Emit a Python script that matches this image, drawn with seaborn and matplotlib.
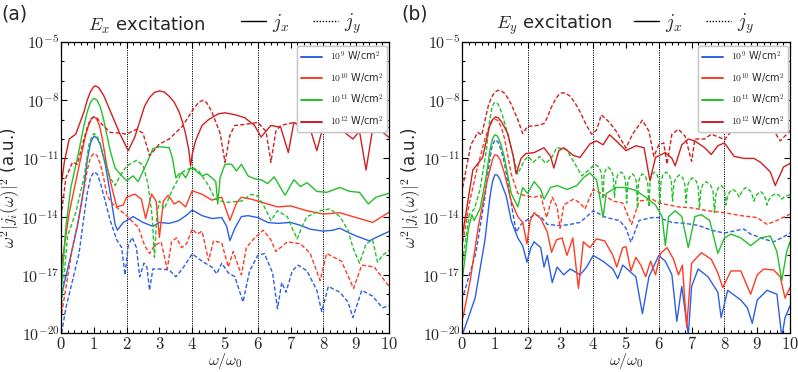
import matplotlib
matplotlib.use("Agg")
import matplotlib.pyplot as plt
from matplotlib.lines import Line2D
from matplotlib.ticker import FixedLocator, MultipleLocator, FuncFormatter, NullFormatter
import seaborn as sns
import pandas as pd

# (omega/omega0, log10 of w^2 |j_i(w)|^2)
# panel (a): Ex excitation
a_jx_9 = [(0.02,-18.0),(0.3,-16.0),(0.5,-14.5),(0.7,-12.5),(0.8,-11.1),(0.9,-10.2),(1.0,-9.85),(1.1,-9.95),(1.2,-10.3),(1.35,-11.3),(1.5,-12.8),(1.65,-14.4),(1.72,-14.7),(1.9,-14.3),(2.2,-14.0),(2.5,-14.3),(2.8,-14.5),(3.0,-14.3),(3.3,-14.35),(3.6,-14.2),(3.85,-13.9),(4.0,-13.66),(4.3,-13.95),(4.6,-14.1),(4.9,-14.05),(5.05,-14.5),(5.15,-15.24),(5.3,-14.6),(5.5,-14.0),(5.7,-13.95),(6.0,-14.05),(6.3,-14.3),(6.6,-14.35),(7.0,-14.3),(7.3,-14.45),(7.6,-14.65),(8.0,-14.75),(8.3,-14.7),(8.5,-14.6),(8.8,-14.85),(9.0,-15.0),(9.4,-15.25),(9.7,-15.0),(10.0,-14.77)]
a_jy_9 = [(0.02,-20.0),(0.15,-18.7),(0.35,-17.3),(0.55,-15.9),(0.7,-14.0),(0.8,-12.8),(0.9,-12.0),(1.0,-11.7),(1.1,-11.8),(1.2,-12.25),(1.3,-12.9),(1.5,-14.2),(1.7,-15.2),(1.85,-15.6),(1.95,-17.0),(2.05,-15.5),(2.17,-15.07),(2.3,-15.6),(2.4,-17.1),(2.53,-16.4),(2.62,-16.6),(2.7,-17.8),(2.8,-16.7),(3.0,-16.7),(3.3,-16.75),(3.5,-17.1),(3.7,-16.7),(4.0,-15.92),(4.3,-16.3),(4.6,-16.6),(4.75,-16.95),(4.9,-16.4),(5.1,-16.9),(5.3,-17.1),(5.55,-18.4),(5.75,-16.8),(6.0,-16.0),(6.2,-15.9),(6.45,-16.9),(6.6,-18.75),(6.73,-17.4),(6.86,-17.9),(7.05,-16.8),(7.23,-16.5),(7.5,-16.8),(7.8,-17.8),(7.95,-18.9),(8.15,-17.6),(8.5,-17.9),(8.75,-18.4),(8.9,-19.2),(9.17,-17.8),(9.5,-18.1),(9.8,-18.7),(10.0,-18.6)]
a_jx_10 = [(0.02,-16.5),(0.25,-13.8),(0.5,-11.8),(0.75,-9.8),(0.85,-9.25),(0.93,-8.95),(1.0,-8.86),(1.08,-8.95),(1.17,-9.3),(1.25,-9.9),(1.4,-11.4),(1.55,-12.5),(1.7,-13.5),(1.9,-13.4),(2.0,-13.0),(2.25,-12.84),(2.45,-13.1),(2.58,-14.1),(2.76,-12.84),(2.9,-13.2),(3.0,-15.07),(3.12,-13.2),(3.27,-12.9),(3.45,-13.35),(3.6,-13.2),(3.8,-13.5),(4.0,-12.67),(4.3,-12.85),(4.6,-13.15),(4.9,-13.0),(5.15,-14.2),(5.35,-13.3),(5.5,-13.0),(5.8,-13.1),(6.0,-13.2),(6.3,-13.35),(6.6,-13.5),(7.0,-13.45),(7.5,-13.7),(8.0,-13.87),(8.5,-13.8),(9.0,-14.05),(9.5,-14.3),(10.0,-13.78)]
a_jy_10 = [(0.02,-19.0),(0.35,-15.6),(0.6,-13.6),(0.8,-11.6),(0.9,-10.95),(1.0,-10.74),(1.1,-10.85),(1.2,-11.3),(1.3,-12.0),(1.4,-12.9),(1.55,-13.3),(1.75,-13.6),(2.0,-13.95),(2.2,-14.3),(2.36,-14.55),(2.55,-15.5),(2.7,-15.9),(2.85,-15.5),(3.05,-15.3),(3.24,-16.7),(3.37,-15.3),(3.52,-15.1),(3.68,-15.6),(3.83,-15.4),(4.0,-14.64),(4.15,-14.9),(4.3,-14.75),(4.5,-16.27),(4.65,-15.25),(4.9,-15.35),(5.1,-16.6),(5.25,-15.8),(5.5,-17.0),(5.65,-15.6),(5.9,-15.1),(6.17,-14.7),(6.4,-15.2),(6.55,-15.8),(6.9,-15.3),(7.3,-15.4),(7.6,-15.9),(7.9,-17.3),(8.1,-15.9),(8.55,-16.3),(8.92,-17.7),(9.17,-16.5),(9.55,-16.6),(10.0,-17.6)]
a_jx_11 = [(0.02,-17.5),(0.15,-14.5),(0.3,-12.5),(0.5,-11.0),(0.7,-9.3),(0.8,-8.6),(0.9,-8.1),(1.0,-7.9),(1.1,-8.0),(1.2,-8.35),(1.3,-9.0),(1.5,-10.6),(1.65,-11.5),(1.8,-11.8),(2.0,-12.15),(2.2,-11.9),(2.35,-12.2),(2.6,-11.3),(2.8,-10.5),(3.0,-10.4),(3.3,-10.45),(3.4,-11.0),(3.5,-12.0),(3.6,-11.8),(3.7,-11.75),(3.8,-12.0),(3.95,-11.5),(4.05,-11.55),(4.3,-11.9),(4.45,-11.8),(4.6,-12.0),(4.72,-12.2),(4.78,-13.35),(4.85,-12.0),(5.0,-11.3),(5.2,-11.3),(5.35,-11.65),(5.5,-11.3),(5.7,-11.9),(5.9,-12.05),(6.1,-12.1),(6.3,-12.3),(6.5,-11.95),(6.83,-12.9),(7.1,-12.1),(7.3,-12.45),(7.5,-12.25),(7.8,-12.7),(8.1,-12.75),(8.5,-12.5),(8.8,-12.7),(9.1,-12.75),(9.37,-13.35),(9.6,-13.0),(10.0,-12.8)]
a_jy_11 = [(0.02,-18.5),(0.2,-15.0),(0.45,-13.8),(0.7,-12.0),(0.85,-10.3),(0.93,-9.9),(1.0,-9.72),(1.08,-9.8),(1.18,-10.15),(1.3,-10.9),(1.5,-12.0),(1.65,-12.4),(1.8,-11.9),(2.0,-11.4),(2.3,-11.1),(2.5,-11.35),(2.65,-12.3),(2.78,-14.0),(2.85,-16.1),(2.92,-14.0),(3.0,-13.2),(3.15,-13.6),(3.4,-12.6),(3.7,-11.7),(4.0,-11.46),(4.2,-11.65),(4.5,-12.4),(4.7,-13.1),(5.0,-13.27),(5.5,-13.2),(5.8,-12.85),(6.0,-12.95),(6.2,-13.5),(6.4,-14.2),(6.6,-13.7),(6.9,-14.0),(7.05,-14.6),(7.2,-15.15),(7.35,-14.5),(7.5,-14.0),(7.9,-13.7),(8.2,-13.6),(8.5,-14.0),(8.75,-14.7),(8.9,-15.6),(9.1,-16.4),(9.3,-15.4),(9.5,-15.2),(9.65,-16.35),(9.8,-16.0),(10.0,-15.75)]
a_jx_12 = [(0.0,-12.5),(0.1,-11.2),(0.25,-10.0),(0.45,-9.75),(0.7,-8.6),(0.8,-8.0),(0.9,-7.55),(1.0,-7.3),(1.05,-7.26),(1.15,-7.35),(1.3,-7.75),(1.5,-8.55),(1.8,-9.75),(2.05,-10.6),(2.25,-9.9),(2.4,-9.1),(2.55,-8.3),(2.7,-7.86),(2.85,-7.6),(3.0,-7.52),(3.15,-7.58),(3.3,-7.8),(3.45,-8.1),(3.6,-8.6),(3.7,-9.1),(3.8,-9.75),(3.9,-10.6),(3.95,-11.4),(4.0,-10.8),(4.1,-10.1),(4.3,-9.3),(4.5,-9.0),(4.8,-8.7),(5.0,-8.65),(5.3,-8.75),(5.6,-8.9),(5.9,-9.3),(6.1,-9.9),(6.4,-9.3),(6.7,-9.4),(6.93,-10.7),(7.1,-9.15),(7.4,-9.35),(7.6,-9.5),(7.8,-10.6),(8.0,-9.3),(8.3,-9.4),(8.6,-9.6),(8.9,-10.0),(9.1,-9.6),(9.3,-11.6),(9.5,-9.5),(9.7,-9.5),(10.0,-9.92)]
a_jy_12 = [(0.0,-14.0),(0.15,-12.0),(0.35,-11.2),(0.5,-11.3),(0.7,-10.0),(0.82,-9.3),(0.92,-8.95),(1.0,-8.86),(1.1,-8.92),(1.25,-9.25),(1.5,-9.66),(1.8,-9.7),(2.0,-9.75),(2.3,-9.5),(2.5,-9.7),(2.7,-10.86),(3.0,-10.26),(3.3,-10.0),(3.7,-9.35),(4.0,-8.55),(4.2,-8.1),(4.34,-8.0),(4.45,-8.15),(4.6,-8.6),(4.85,-9.7),(5.0,-11.2),(5.15,-9.8),(5.3,-9.3),(5.6,-9.25),(6.0,-9.15),(6.25,-9.6),(6.4,-11.2),(6.55,-9.6),(6.7,-9.3),(7.1,-9.15),(7.4,-9.45),(7.6,-9.6),(7.9,-9.3),(8.3,-8.93),(8.7,-9.25),(9.0,-9.6),(9.5,-9.35),(10.0,-9.41)]

# panel (b): Ey excitation
b_jx_9 = [(0.03,-20.0),(0.4,-18.2),(0.7,-15.2),(0.85,-13.0),(0.93,-12.2),(1.0,-11.85),(1.07,-11.85),(1.15,-12.05),(1.25,-12.5),(1.35,-12.95),(1.5,-14.2),(1.7,-15.1),(1.85,-15.5),(1.98,-16.35),(2.1,-15.6),(2.2,-15.3),(2.4,-15.6),(2.5,-16.6),(2.6,-16.0),(2.75,-17.4),(2.9,-16.6),(3.1,-17.0),(3.3,-16.7),(3.6,-17.0),(3.8,-16.6),(4.0,-16.0),(4.3,-16.3),(4.6,-16.7),(4.75,-17.2),(4.9,-16.5),(5.1,-16.8),(5.3,-17.1),(5.5,-19.0),(5.7,-17.1),(6.0,-16.0),(6.2,-16.3),(6.4,-17.0),(6.55,-19.4),(6.7,-17.6),(6.9,-20.1),(7.0,-17.6),(7.2,-16.7),(7.5,-17.1),(7.8,-17.9),(7.9,-19.2),(8.1,-17.8),(8.5,-18.3),(8.7,-18.7),(8.85,-19.5),(9.0,-18.3),(9.3,-17.8),(9.6,-18.0),(9.75,-20.2),(9.85,-19.2),(10.0,-18.6)]
b_jy_9 = [(0.05,-18.0),(0.42,-15.9),(0.7,-13.0),(0.8,-11.6),(0.9,-10.5),(1.0,-10.04),(1.1,-10.15),(1.2,-10.6),(1.3,-11.3),(1.5,-13.3),(1.65,-14.8),(1.8,-14.4),(2.0,-14.15),(2.2,-13.9),(2.4,-14.0),(2.6,-14.4),(3.0,-14.47),(3.3,-14.4),(3.6,-14.3),(4.0,-13.7),(4.4,-14.05),(4.8,-14.2),(5.0,-14.6),(5.15,-15.32),(5.4,-14.2),(5.8,-14.05),(6.0,-14.05),(6.4,-14.3),(6.8,-14.35),(7.2,-14.45),(7.6,-14.7),(8.0,-14.85),(8.4,-14.7),(8.6,-14.65),(8.8,-14.9),(9.2,-15.15),(9.5,-15.3),(9.8,-15.05),(10.0,-14.84)]
b_jx_10 = [(0.03,-19.2),(0.25,-17.3),(0.5,-14.5),(0.75,-12.3),(0.85,-11.6),(0.93,-11.05),(1.0,-10.81),(1.08,-10.85),(1.17,-11.1),(1.3,-11.8),(1.5,-13.2),(1.7,-14.0),(1.85,-14.3),(1.98,-15.4),(2.08,-14.2),(2.2,-13.8),(2.4,-14.1),(2.6,-14.8),(2.73,-15.84),(2.88,-15.2),(3.05,-15.1),(3.2,-16.0),(3.38,-15.1),(3.55,-17.7),(3.7,-15.3),(3.9,-15.6),(4.1,-15.15),(4.35,-15.25),(4.6,-16.0),(4.72,-16.6),(4.9,-15.6),(5.0,-15.55),(5.15,-16.8),(5.3,-16.1),(5.45,-16.5),(5.6,-17.1),(5.75,-16.3),(5.9,-17.0),(6.05,-15.9),(6.25,-15.6),(6.45,-16.2),(6.6,-17.0),(6.72,-16.5),(6.85,-19.7),(7.0,-16.4),(7.3,-15.86),(7.6,-16.2),(7.8,-16.9),(7.95,-17.66),(8.2,-16.8),(8.5,-16.8),(8.8,-18.0),(9.0,-17.0),(9.2,-16.7),(9.5,-16.75),(9.7,-17.1),(9.85,-18.2),(10.0,-17.66)]
b_jy_10 = [(0.03,-15.3),(0.2,-13.5),(0.45,-11.6),(0.7,-10.0),(0.8,-9.5),(0.9,-9.1),(1.0,-8.98),(1.1,-9.05),(1.2,-9.4),(1.3,-10.0),(1.5,-11.8),(1.7,-12.8),(1.94,-12.93),(2.2,-13.0),(2.4,-12.9),(2.58,-14.05),(2.75,-13.0),(2.9,-13.5),(2.99,-14.6),(3.1,-13.4),(3.4,-13.1),(3.6,-13.3),(3.75,-13.6),(4.0,-12.6),(4.3,-12.85),(4.6,-13.2),(4.9,-13.3),(5.17,-14.4),(5.4,-13.2),(5.8,-13.1),(6.0,-13.3),(6.3,-13.4),(6.6,-13.5),(7.0,-13.55),(7.5,-13.7),(8.0,-13.8),(8.5,-13.95),(9.0,-14.05),(9.3,-14.4),(9.6,-14.2),(10.0,-13.87)]
b_jx_11 = [(0.02,-17.1),(0.2,-14.6),(0.3,-13.9),(0.37,-14.2),(0.55,-13.6),(0.73,-12.0),(0.85,-10.6),(0.93,-10.0),(1.0,-9.78),(1.08,-9.85),(1.17,-10.2),(1.3,-11.0),(1.5,-12.8),(1.7,-13.5),(1.85,-12.5),(2.0,-12.8),(2.2,-12.2),(2.4,-12.6),(2.5,-13.1),(2.7,-12.5),(2.9,-12.4),(3.2,-12.6),(3.5,-12.4),(3.7,-12.0),(3.9,-11.75),(4.1,-12.1),(4.2,-13.0),(4.3,-14.04),(4.4,-12.8),(4.7,-12.5),(5.0,-12.5),(5.3,-12.65),(5.6,-13.0),(5.9,-13.4),(6.1,-14.0),(6.2,-15.5),(6.3,-14.0),(6.5,-13.7),(6.7,-14.0),(6.9,-15.6),(7.1,-14.0),(7.3,-13.9),(7.55,-14.2),(7.8,-15.9),(8.0,-15.1),(8.2,-14.9),(8.5,-15.1),(8.8,-15.5),(9.1,-15.1),(9.4,-15.0),(9.6,-15.8),(9.75,-17.3),(9.9,-15.8),(10.0,-15.3)]
b_jy_11 = [(0.02,-16.3),(0.22,-13.9),(0.38,-13.6),(0.55,-12.6),(0.75,-10.5),(0.82,-9.3),(0.9,-8.5),(0.96,-8.18),(1.02,-8.1),(1.1,-8.2),(1.2,-8.6),(1.34,-9.4),(1.55,-10.8),(1.7,-11.8),(1.9,-11.1),(2.02,-10.9),(2.17,-11.2),(2.37,-10.9),(2.55,-11.25),(2.72,-11.0),(2.89,-10.44),(3.19,-10.55),(3.45,-11.3),(3.65,-11.9),(3.8,-11.7),
           (4.05,-11.3),(4.175,-11.45),(4.25,-11.75),(4.3,-13.1),(4.33,-11.9),(4.375,-11.6),(4.45,-11.45),(4.55,-11.6),(4.61,-11.9),(4.65,-13.0),(4.69,-12.15),(4.75,-11.85),(4.85,-11.7),
           (4.935,-11.85),(4.985,-12.15),(5.02,-13.3),(5.056,-12.25),(5.11,-11.95),(5.2,-11.8),(5.275,-11.95),(5.32,-12.25),(5.35,-13.6),(5.38,-12.25),(5.425,-11.95),(5.5,-11.8),
           (5.6,-11.95),(5.66,-12.25),(5.7,-13.5),(5.734,-12.15),(5.785,-11.85),(5.87,-11.7),(5.95,-11.85),(6.0,-12.15),(6.03,-13.4),(6.07,-12.15),(6.125,-11.85),(6.22,-11.7),
           (6.32,-11.85),(6.38,-12.15),(6.42,-13.2),(6.46,-12.3),(6.525,-12.0),(6.63,-11.85),(6.73,-12.0),(6.79,-12.3),(6.83,-13.3),(6.87,-12.45),(6.93,-12.15),(7.03,-12.0),
           (7.135,-12.15),(7.2,-12.45),(7.24,-13.6),(7.28,-12.65),(7.34,-12.35),(7.44,-12.2),(7.57,-12.35),(7.65,-12.65),(7.7,-13.8),(7.74,-12.85),(7.8,-12.55),(7.9,-12.4),
           (7.975,-12.55),(8.02,-12.85),(8.05,-13.4),(8.09,-13.0),(8.15,-12.75),(8.25,-12.6),(8.35,-12.7),(8.41,-12.85),(8.45,-13.0),(8.49,-12.85),(8.55,-12.65),(8.65,-12.5),
           (8.775,-12.65),(8.85,-12.9),(8.9,-13.2),(8.94,-13.0),(9.0,-12.85),(9.1,-12.7),(9.2,-12.85),(9.26,-13.1),(9.3,-13.4),(9.35,-13.15),(9.43,-12.95),(9.57,-12.8),
           (9.66,-12.9),(9.72,-13.0),(9.75,-13.1),(9.85,-12.95),(10.0,-12.87)]
b_jx_12 = [(0.02,-14.9),(0.33,-11.6),(0.63,-10.95),(0.83,-9.4),(0.93,-9.0),(1.02,-8.86),(1.1,-8.9),(1.2,-9.1),(1.3,-9.4),(1.4,-9.75),(1.55,-10.8),(1.65,-11.8),(1.8,-11.0),(1.95,-10.75),(2.2,-10.7),(2.5,-10.45),(2.7,-10.9),(2.8,-11.5),(2.95,-10.6),(3.1,-10.45),(3.4,-10.85),(3.6,-10.95),(3.9,-10.25),(4.1,-10.1),(4.3,-10.3),(4.5,-9.78),(4.7,-10.1),(5.0,-10.6),(5.3,-10.35),(5.55,-10.45),(5.73,-12.15),(5.9,-10.95),(6.2,-10.7),(6.4,-11.0),(6.5,-11.38),(6.7,-10.3),(6.9,-10.0),(7.1,-10.1),(7.4,-10.45),(7.6,-10.8),(7.8,-10.35),(8.0,-10.2),(8.3,-10.9),(8.6,-11.0),(8.9,-11.0),(9.1,-11.2),(9.4,-11.7),(9.55,-12.4),(9.8,-11.45),(10.0,-11.26)]
b_jy_12 = [(0.02,-12.5),(0.27,-10.3),(0.48,-9.66),(0.6,-9.8),(0.8,-8.3),(0.9,-7.85),(1.0,-7.58),(1.1,-7.49),(1.2,-7.52),(1.3,-7.65),(1.4,-7.9),(1.5,-8.2),(1.7,-9.0),(1.85,-9.72),(2.0,-9.35),(2.3,-9.3),(2.5,-9.2),(2.6,-8.9),(2.7,-8.45),(2.85,-7.95),(2.95,-7.72),(3.05,-7.62),(3.15,-7.63),(3.3,-7.8),(3.45,-8.15),(3.6,-8.6),(3.75,-9.15),(3.95,-9.75),(4.1,-9.55),(4.25,-8.75),(4.5,-9.15),(4.7,-9.6),(5.0,-10.47),(5.2,-9.75),(5.5,-9.03),(5.7,-9.6),(5.85,-10.9),(6.0,-10.3),(6.15,-10.2),(6.25,-11.3),(6.4,-9.75),(6.6,-9.5),(6.8,-9.85),(7.0,-11.15),(7.1,-10.0),(7.4,-10.0),(7.6,-9.75),(7.9,-9.95),(8.0,-10.05),(8.3,-9.4),(8.7,-9.2),(9.0,-9.3),(9.2,-9.15),(9.5,-9.55),(9.7,-10.1),(10.0,-9.58)]

intensities = ["1e9", "1e10", "1e11", "1e12"]
int_labels = [r"$10^{9}$ W/cm$^2$", r"$10^{10}$ W/cm$^2$", r"$10^{11}$ W/cm$^2$", r"$10^{12}$ W/cm$^2$"]
colors = ["#2b5fe6", "#ff3b22", "#22c02a", "#d01f1f"]
y_ticks = [1e-20, 1e-17, 1e-14, 1e-11, 1e-8, 1e-5]
y_ticklabels = [r"$10^{-20}$", r"$10^{-17}$", r"$10^{-14}$", r"$10^{-11}$", r"$10^{-8}$", r"$10^{-5}$"]

panels = {
    "a": {"jx": [a_jx_9, a_jx_10, a_jx_11, a_jx_12], "jy": [a_jy_9, a_jy_10, a_jy_11, a_jy_12]},
    "b": {"jx": [b_jx_9, b_jx_10, b_jx_11, b_jx_12], "jy": [b_jy_9, b_jy_10, b_jy_11, b_jy_12]},
}


def make_frame(curves):
    parts = []
    for comp, lists in curves.items():
        for inten, pts in zip(intensities, lists):
            df = pd.DataFrame(pts, columns=["w", "lg"])
            df["val"] = 10.0 ** df["lg"]
            df["comp"] = comp
            df["intensity"] = inten
            parts.append(df)
    return pd.concat(parts, ignore_index=True)


sns.set_style("ticks")
plt.rcParams["mathtext.fontset"] = "cm"
plt.rcParams["font.family"] = ["DejaVu Sans"]
plt.rcParams["xtick.direction"] = "in"
plt.rcParams["ytick.direction"] = "in"

fig = plt.figure(figsize=(7.98, 3.72), dpi=100)
W, H = 798.0, 372.0
lefts = {"a": 61, "b": 462}
headers = {"a": r"$E_x$ excitation", "b": r"$E_y$ excitation"}
header_x = {"a": 88, "b": 496}
jleg_x = {"a": 241, "b": 634}
tags = {"a": (1, "(a)"), "b": (401, "(b)")}

for key in ["a", "b"]:
    ax = fig.add_axes([lefts[key] / W, 1 - 333 / H, 328 / W, 291 / H])
    data = make_frame(panels[key])
    sns.lineplot(data=data, x="w", y="val", hue="intensity", style="comp",
                 hue_order=intensities, palette=colors, style_order=["jx", "jy"],
                 dashes={"jx": "", "jy": (3, 1.6)}, estimator=None, sort=False,
                 linewidth=1.0, legend=False, ax=ax)
    ax.set_yscale("log")
    ax.set_xlim(0, 10)
    ax.set_ylim(1e-20, 1e-5)
    for xv in [2, 4, 6, 8]:
        ax.axvline(xv, color="black", lw=0.7, ls=(0, (1.2, 1.2)), zorder=0)

    ax.yaxis.set_major_locator(FixedLocator(y_ticks))
    ax.yaxis.set_minor_locator(FixedLocator([10.0 ** e for e in range(-20, -4) if e % 3 != 1]))
    ax.set_yticklabels(y_ticklabels)
    ax.yaxis.set_minor_formatter(NullFormatter())
    ax.xaxis.set_major_locator(MultipleLocator(1))
    ax.xaxis.set_minor_locator(MultipleLocator(0.2))
    ax.xaxis.set_major_formatter(FuncFormatter(lambda v, p: r"$%d$" % round(v)))
    ax.tick_params(which="both", top=True, right=True, direction="in", width=0.8, color="black")
    ax.tick_params(which="major", length=4)
    ax.tick_params(which="minor", length=2)
    ax.tick_params(axis="x", which="major", labelsize=12, pad=1.5)
    ax.tick_params(axis="y", which="major", labelsize=11.5, pad=1)
    for s in ax.spines.values():
        s.set_color("black")
        s.set_linewidth(0.9)

    ax.set_xlabel(r"$\omega/\omega_0$", fontsize=11.5)
    ax.xaxis.set_label_coords(0.5, -0.062)
    ax.set_ylabel(r"$\omega^2|j_i(\omega)|^2$ (a.u.)", fontsize=12)
    ax.yaxis.set_label_coords(-0.118, 0.5)

    handles = [Line2D([], [], color=c, lw=1.4) for c in colors]
    leg = ax.legend(handles, int_labels, loc="upper right", bbox_to_anchor=(1 - 2 / 328, 1 - 4 / 291),
                    borderaxespad=0, fontsize=7, handlelength=2.2, handletextpad=0.8,
                    labelspacing=0.75, borderpad=0.35, fancybox=True, framealpha=1,
                    edgecolor="#c8c8c8")
    ax.add_artist(leg)

    jh = [Line2D([], [], color="black", lw=1.0), Line2D([], [], color="black", lw=1.0, ls=(0, (1, 1.2)))]
    fig.legend(jh, [r"$j_x$", r"$j_y$"], loc="center left", bbox_to_anchor=(jleg_x[key] / W, 1 - 24 / H),
               ncol=2, frameon=False, fontsize=14, handlelength=1.3, handletextpad=0.3,
               columnspacing=1.2, borderpad=0, borderaxespad=0)
    fig.text(header_x[key] / W, 1 - 25 / H, headers[key], fontsize=13, va="center", ha="left")
    fig.text(tags[key][0] / W, 1 - 14 / H, tags[key][1], fontsize=13.5, va="center", ha="left")

fig.savefig("out.png", dpi=100)
